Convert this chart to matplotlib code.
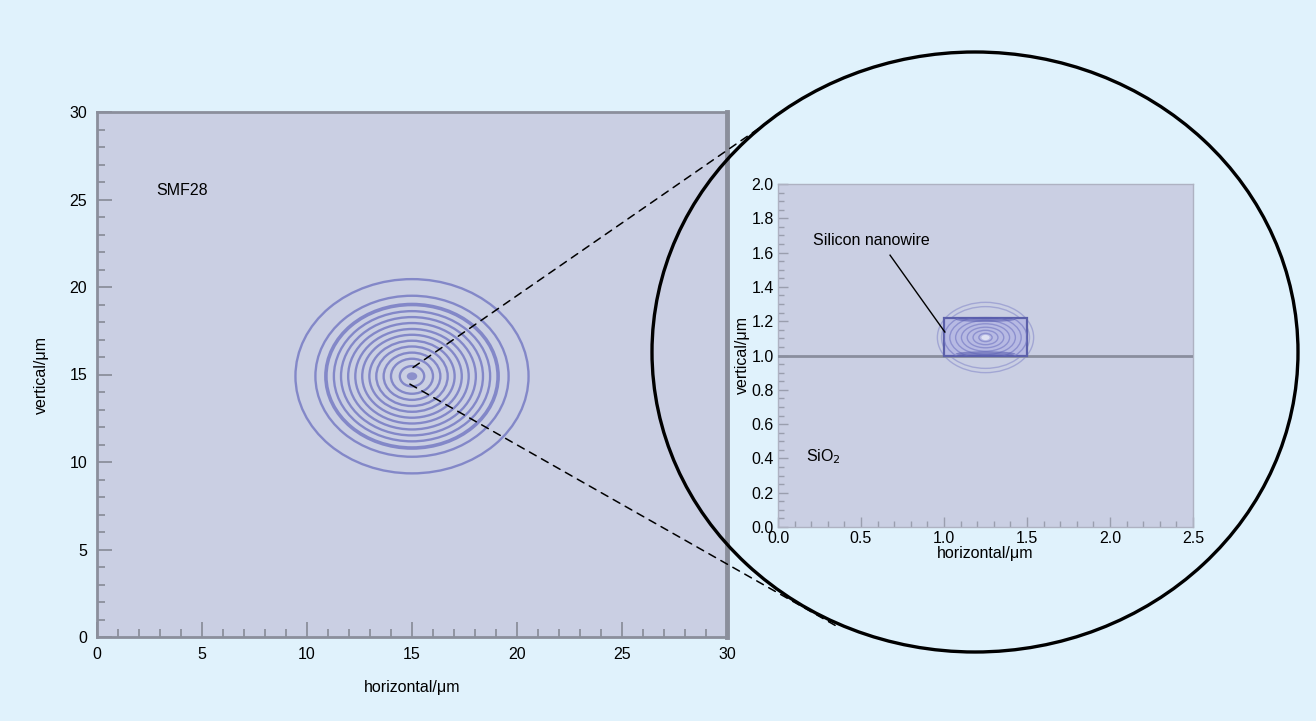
import numpy as np
import matplotlib
matplotlib.use('Agg')
import matplotlib.pyplot as plt
from matplotlib.patches import Circle, Ellipse, Rectangle, ConnectionPatch
from matplotlib.ticker import MultipleLocator

plt.rcParams['font.family'] = ['Liberation Sans', 'DejaVu Sans']

# SMF28 mode: ring radii (um), centred on the fibre core
smf_center = (15.0, 14.9)
smf_radii = [5.55, 4.6, 4.1, 3.72, 3.38, 3.04, 2.7, 2.37, 2.03, 1.7, 1.35, 1.0, 0.58]
smf_dark = [4.1]

# silicon nanowire mode: (semi-axis x, semi-axis y) of the rings (um)
wg_center = (1.25, 1.105)
wg_outer = [(0.29, 0.205), (0.265, 0.18)]
wg_inner = [(0.25, 0.15), (0.215, 0.125), (0.18, 0.1), (0.145, 0.08), (0.11, 0.06), (0.075, 0.042), (0.04, 0.024)]
wg_box = (1.0, 1.0, 0.5, 0.22)   # x, y, width, height of the silicon core
substrate_y = 1.0

bg = '#e0f2fc'
face = '#cacfe3'
ring_c = '#7276c2'
spine_c = '#8b8f9c'
fs = 11.5

fig = plt.figure(figsize=(13.16, 7.21), dpi=100, facecolor=bg)

# ---------- left: SMF28 ----------
ax1 = fig.add_axes([97 / 1316, 84 / 721, 630 / 1316, 525 / 721])
ax1.set_facecolor(face)
ax1.set_xlim(0, 30)
ax1.set_ylim(0, 30)
ax1.xaxis.set_major_locator(MultipleLocator(5))
ax1.xaxis.set_minor_locator(MultipleLocator(1))
ax1.yaxis.set_major_locator(MultipleLocator(5))
ax1.yaxis.set_minor_locator(MultipleLocator(1))
ax1.tick_params(which='both', direction='in', color=spine_c, width=1.3, labelsize=fs, pad=7)
ax1.tick_params(which='major', length=11)
ax1.tick_params(which='minor', length=6)
for s in ax1.spines.values():
    s.set_color(spine_c)
    s.set_linewidth(2.0)
ax1.spines['right'].set_linewidth(3.5)
ax1.set_xlabel('horizontal/μm', fontsize=fs, labelpad=13)
ax1.set_ylabel('vertical/μm', fontsize=fs, labelpad=15)

for r in smf_radii:
    lw = 2.6 if r in smf_dark else 1.7
    ax1.add_patch(Circle(smf_center, r, fill=False, ec=ring_c, lw=lw, alpha=0.8))
ax1.add_patch(Ellipse(smf_center, 0.5, 0.45, fc=ring_c, ec='none', alpha=0.7))
ax1.text(2.8, 25.5, 'SMF28', fontsize=fs, va='center')

# ---------- right: silicon nanowire ----------
ax2 = fig.add_axes([778 / 1316, 194 / 721, 415 / 1316, 343 / 721])
ax2.set_facecolor(face)
ax2.set_xlim(0, 2.5)
ax2.set_ylim(0, 2.0)
ax2.xaxis.set_major_locator(MultipleLocator(0.5))
ax2.xaxis.set_minor_locator(MultipleLocator(0.1))
ax2.yaxis.set_major_locator(MultipleLocator(0.2))
ax2.yaxis.set_minor_locator(MultipleLocator(0.05))
ax2.xaxis.set_major_formatter(plt.FormatStrFormatter('%.1f'))
ax2.yaxis.set_major_formatter(plt.FormatStrFormatter('%.1f'))
ax2.tick_params(which='both', direction='in', color='#9a9eae', width=1.0, labelsize=fs, pad=3)
ax2.tick_params(which='major', length=7)
ax2.tick_params(which='minor', length=4)
for s in ax2.spines.values():
    s.set_color('#aeb2c2')
    s.set_linewidth(1.0)
ax2.set_xlabel('horizontal/μm', fontsize=fs, labelpad=0)
ax2.set_ylabel('vertical/μm', fontsize=fs, labelpad=1)

ax2.axhline(substrate_y, color='#8a8e9e', lw=2.0, zorder=3)
for a, b in wg_outer:
    ax2.add_patch(Ellipse(wg_center, 2 * a, 2 * b, fill=False, ec=ring_c, lw=1.0, alpha=0.45))
core = Rectangle(wg_box[:2], wg_box[2], wg_box[3], fc='#b7bae3', ec='#5c60aa', lw=1.6, zorder=4)
ax2.add_patch(core)
for a, b in wg_inner:
    e = Ellipse(wg_center, 2 * a, 2 * b, fill=False, ec=ring_c, lw=1.0, alpha=0.6, zorder=5)
    ax2.add_patch(e)
    e.set_clip_path(core)
ax2.add_patch(Ellipse((1.25, 1.21), 0.36, 0.03, fc='#5a5eb0', ec='none', alpha=0.6, zorder=5))
ax2.add_patch(Ellipse((1.25, 1.01), 0.36, 0.03, fc='#5a5eb0', ec='none', alpha=0.6, zorder=5))
ax2.add_patch(Ellipse(wg_center, 0.05, 0.03, fc='#e8eaf8', ec='none', alpha=0.8, zorder=6))

ax2.text(0.21, 1.67, 'Silicon nanowire', fontsize=fs, va='center')
ax2.plot([0.675, 1.005], [1.585, 1.137], color='black', lw=1.0, zorder=7)
ax2.text(0.17, 0.41, 'SiO$_2$', fontsize=fs, va='center')

# ---------- overlay: magnifier circle and dashed guides ----------
ov = fig.add_axes([0, 0, 1, 1], zorder=10)
ov.set_xlim(0, 1316)
ov.set_ylim(721, 0)
ov.axis('off')
ov.patch.set_alpha(0)
ov.add_patch(Ellipse((975, 352), 646, 600, fill=False, ec='black', lw=2.4))

for start, end in [((15.05, 15.4), (768, 122)), ((14.9, 14.45), (838, 627))]:
    cp = ConnectionPatch(xyA=start, coordsA=ax1.transData, xyB=end, coordsB=ov.transData,
                         color='black', lw=1.1, linestyle=(0, (5, 4)))
    fig.add_artist(cp)

fig.savefig('out.png', dpi=100, facecolor=bg)
